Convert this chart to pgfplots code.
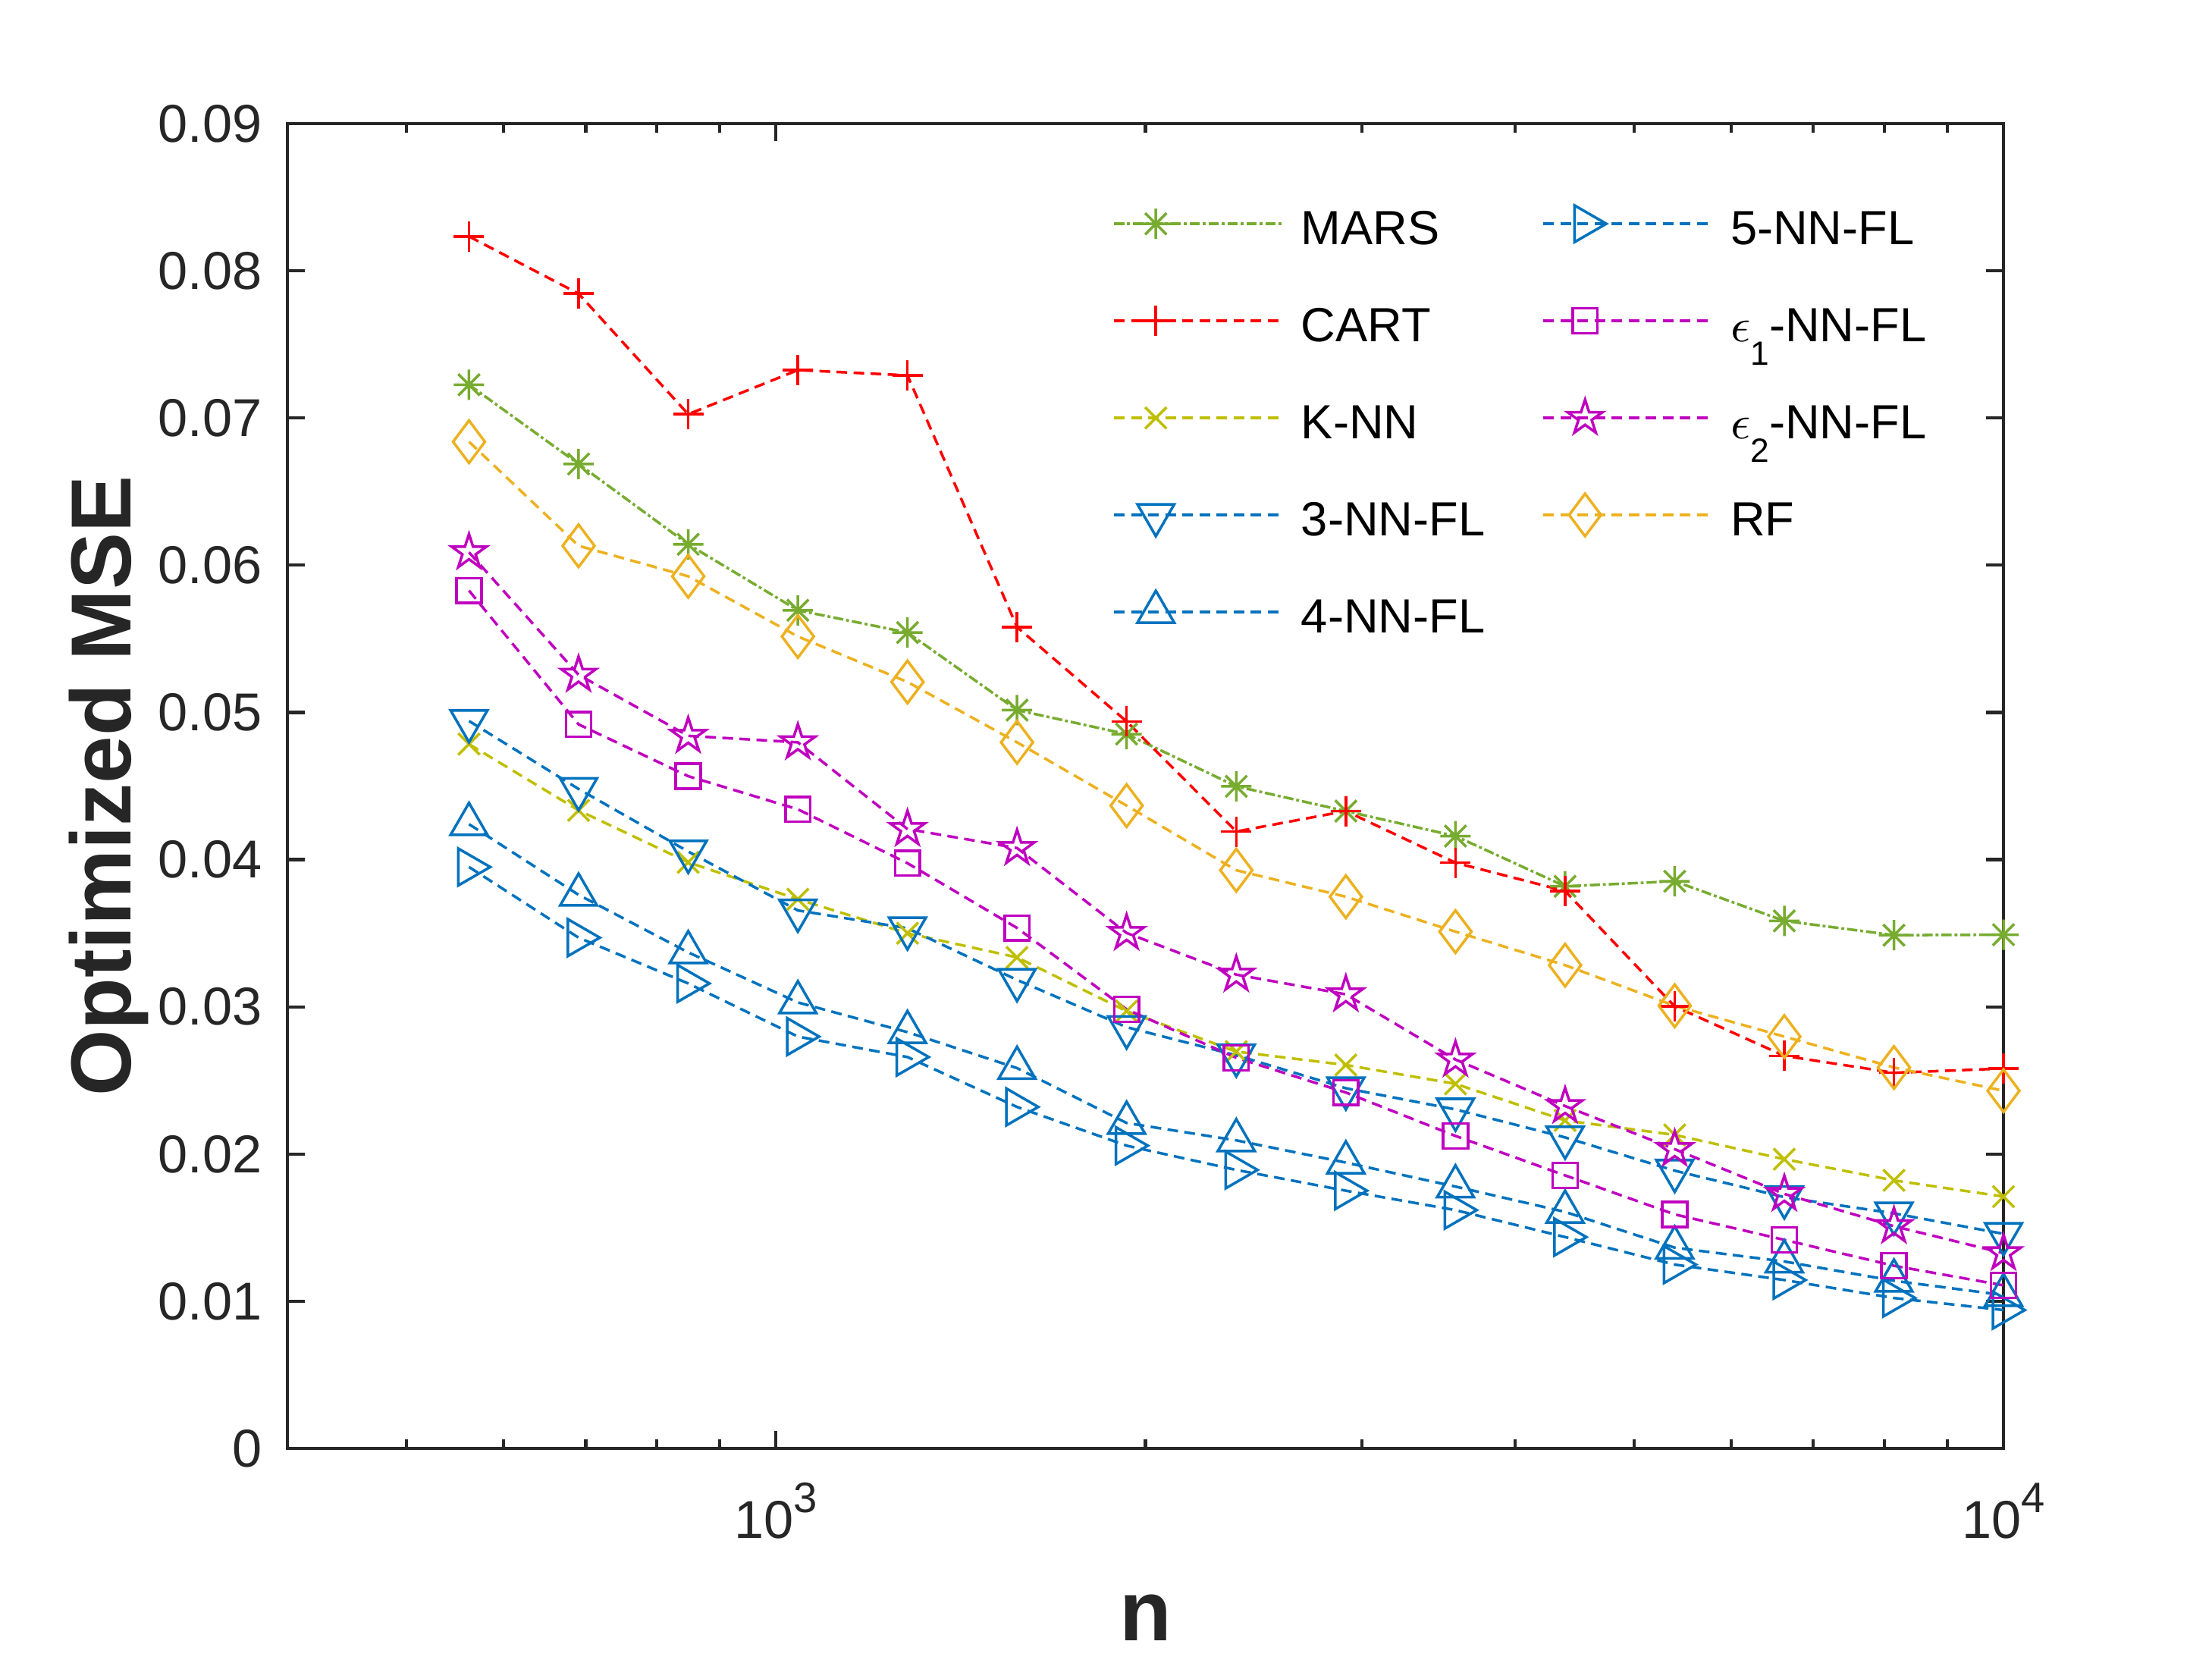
\documentclass[border=0pt]{standalone}
\usepackage{fontspec}
\setmainfont{Liberation Sans}
\usepackage{pgfplots}
\usepackage{pgfplotstable}
\pgfplotsset{compat=1.18}
\usetikzlibrary{plotmarks}

\definecolor{cMARS}{RGB}{119,172,48}
\definecolor{cCART}{RGB}{255,0,0}
\definecolor{cKNN}{RGB}{191,191,0}
\definecolor{cBlue}{RGB}{0,114,189}
\definecolor{cMag}{RGB}{191,0,191}
\definecolor{cRF}{RGB}{237,177,32}
\definecolor{axgray}{RGB}{38,38,38}

\pgfdeclareplotmark{ast8}{%
  \pgfpathmoveto{\pgfqpoint{0pt}{\pgfplotmarksize}}\pgfpathlineto{\pgfqpoint{0pt}{-\pgfplotmarksize}}%
  \pgfpathmoveto{\pgfqpoint{\pgfplotmarksize}{0pt}}\pgfpathlineto{\pgfqpoint{-\pgfplotmarksize}{0pt}}%
  \pgfpathmoveto{\pgfqpoint{0.7071\pgfplotmarksize}{0.7071\pgfplotmarksize}}\pgfpathlineto{\pgfqpoint{-0.7071\pgfplotmarksize}{-0.7071\pgfplotmarksize}}%
  \pgfpathmoveto{\pgfqpoint{-0.7071\pgfplotmarksize}{0.7071\pgfplotmarksize}}\pgfpathlineto{\pgfqpoint{0.7071\pgfplotmarksize}{-0.7071\pgfplotmarksize}}%
  \pgfusepathqstroke}

\pgfdeclareplotmark{pentagram}{%
  \pgfpathmoveto{\pgfqpoint{0pt}{\pgfplotmarksize}}%
  \pgfpathlineto{\pgfqpoint{-0.2245\pgfplotmarksize}{0.3090\pgfplotmarksize}}%
  \pgfpathlineto{\pgfqpoint{-0.9511\pgfplotmarksize}{0.3090\pgfplotmarksize}}%
  \pgfpathlineto{\pgfqpoint{-0.3633\pgfplotmarksize}{-0.1180\pgfplotmarksize}}%
  \pgfpathlineto{\pgfqpoint{-0.5878\pgfplotmarksize}{-0.8090\pgfplotmarksize}}%
  \pgfpathlineto{\pgfqpoint{0pt}{-0.382\pgfplotmarksize}}%
  \pgfpathlineto{\pgfqpoint{0.5878\pgfplotmarksize}{-0.8090\pgfplotmarksize}}%
  \pgfpathlineto{\pgfqpoint{0.3633\pgfplotmarksize}{-0.1180\pgfplotmarksize}}%
  \pgfpathlineto{\pgfqpoint{0.9511\pgfplotmarksize}{0.3090\pgfplotmarksize}}%
  \pgfpathlineto{\pgfqpoint{0.2245\pgfplotmarksize}{0.3090\pgfplotmarksize}}%
  \pgfpathclose\pgfusepathqstroke}

\pgfplotsset{
  dashed2/.style={dash pattern=on 2pt off 1.2pt},
  sMARS/.style={color=cMARS, line width=0.5pt, dash pattern=on 1.9pt off 0.55pt on 0.55pt off 0.55pt, mark=ast8, mark size=0.1cm, mark options={solid, line width=0.5pt}},
  sCART/.style={color=cCART, line width=0.5pt, dashed2, mark=+, mark size=0.1cm, mark options={solid, line width=0.5pt}},
  sKNN/.style={color=cKNN, line width=0.5pt, dashed2, mark=x, mark size=0.1cm, mark options={solid, line width=0.5pt}},
  sNN3/.style={color=cBlue, line width=0.5pt, dashed2, mark=triangle, mark size=0.14cm, mark options={solid, line width=0.5pt, rotate=180}},
  sNN4/.style={color=cBlue, line width=0.5pt, dashed2, mark=triangle, mark size=0.14cm, mark options={solid, line width=0.5pt}},
  sNN5/.style={color=cBlue, line width=0.5pt, dashed2, mark=triangle, mark size=0.14cm, mark options={solid, line width=0.5pt, rotate=-90}},
  sEA/.style={color=cMag, line width=0.5pt, dashed2, mark=square, mark size=0.082cm, mark options={solid, line width=0.5pt}},
  sEB/.style={color=cMag, line width=0.5pt, dashed2, mark=pentagram, mark size=0.12cm, mark options={solid, line width=0.5pt}},
  sRF/.style={color=cRF, line width=0.5pt, dashed2, mark=diamond, mark size=0.14cm, mark options={solid, line width=0.5pt}},
}

\pgfplotstableread{
n      mars    cart    knn     nnthree nnfour  nnfive  ea      eb      rf
562.34 0.07226 0.08234 0.04785 0.04942 0.04241 0.03950 0.05828 0.06088 0.06839
690.7  0.06688 0.07845 0.04335 0.04480 0.03761 0.03470 0.04919 0.05256 0.06132
848.3  0.06142 0.07026 0.03982 0.04055 0.03370 0.03159 0.04567 0.04841 0.05925
1042.0 0.05694 0.07326 0.03731 0.03655 0.03030 0.02798 0.04342 0.04797 0.05516
1279.8 0.05543 0.07290 0.03500 0.03534 0.02828 0.02659 0.03976 0.04208 0.05207
1571.9 0.05016 0.05580 0.03336 0.03183 0.02584 0.02320 0.03536 0.04079 0.04797
1930.7 0.04853 0.04939 0.02971 0.02862 0.02211 0.02057 0.02983 0.03502 0.04367
2371.4 0.04498 0.04191 0.02696 0.02671 0.02093 0.01892 0.02654 0.03219 0.03928
2912.6 0.04330 0.04330 0.02605 0.02447 0.01942 0.01751 0.02418 0.03085 0.03748
3577.5 0.04160 0.03979 0.02477 0.02303 0.01779 0.01619 0.02123 0.02642 0.03511
4394.1 0.03819 0.03787 0.02228 0.02113 0.01607 0.01436 0.01855 0.02326 0.03283
5397.1 0.03853 0.03003 0.02130 0.01887 0.01364 0.01249 0.01590 0.02033 0.03007
6629.1 0.03584 0.02667 0.01965 0.01707 0.01270 0.01144 0.01417 0.01729 0.02798
8142.3 0.03487 0.02552 0.01821 0.01597 0.01139 0.01022 0.01241 0.01510 0.02588
10000  0.03490 0.02581 0.01711 0.01458 0.01042 0.00940 0.01108 0.01327 0.02430
}\data

\newcommand{\sub}[1]{\raisebox{-4.4pt}{\fontsize{6.3}{7}\selectfont #1}}
\newcommand{\tenpow}[1]{10\raisebox{4.7pt}{\fontsize{8}{8}\selectfont #1}}

\begin{document}
\begin{tikzpicture}
\begin{axis}[
  scale only axis, width=11.315cm, height=8.735cm,
  at={(0,0)}, anchor=south west,
  xmode=log, xmin=400, xmax=10000, ymin=0, ymax=0.09,
  scaled y ticks=false,
  xtick={1000,10000}, xticklabels={\tenpow{3},\tenpow{4}},
  minor xtick={500,600,700,800,900,2000,3000,4000,5000,6000,7000,8000,9000},
  ytick={0,0.01,0.02,0.03,0.04,0.05,0.06,0.07,0.08,0.09},
  yticklabels={0,0.01,0.02,0.03,0.04,0.05,0.06,0.07,0.08,0.09},
  tick align=inside, major tick length=0.115cm, minor tick length=0.06cm,
  every tick/.style={axgray, line width=0.6pt},
  axis line style={axgray, line width=0.6pt},
  tick label style={font=\fontsize{10}{12}\selectfont, text=axgray, inner sep=0pt},
  yticklabel style={anchor=east, xshift=-0.16cm},
  xticklabel style={anchor=base, yshift=-0.59cm},
  xlabel={n}, ylabel={Optimized MSE},
  every axis y label/.style={at={(axis description cs:-0.09147,0.5)}, rotate=90, anchor=base,
    font=\fontsize{16}{19}\selectfont\bfseries, text=axgray, inner sep=0pt},
  every axis x label/.style={at={(axis description cs:0.5,-0.14482)}, anchor=base,
    font=\fontsize{16}{19}\selectfont\bfseries, text=axgray, inner sep=0pt},
  legend columns=2,
  legend cell align=left,
  legend style={draw=none, fill=none, inner sep=0pt, outer sep=0pt,
    at={(axis description cs:0.48095,0.94276)}, anchor=north west,
    font=\fontsize{9}{10.8}\selectfont,
    nodes={inner sep=0pt, anchor=west, text height=0.2975cm, text depth=0.0225cm},
    row sep=0.32cm,
    /tikz/every odd column/.append style={column sep=0.11cm},
    /tikz/every even column/.append style={column sep=0.375cm}},
  legend image code/.code={\draw[#1, mark indices={2}] plot coordinates {(0cm,0cm) (0.275cm,0cm) (1.115cm,0cm)};},
]
\addplot[sMARS, forget plot] table[x=n, y=mars]{\data};
\addplot[sCART, forget plot] table[x=n, y=cart]{\data};
\addplot[sKNN, forget plot] table[x=n, y=knn]{\data};
\addplot[sNN3, forget plot] table[x=n, y=nnthree]{\data};
\addplot[sNN4, forget plot] table[x=n, y=nnfour]{\data};
\addplot[sNN5, forget plot] table[x=n, y=nnfive]{\data};
\addplot[sEA, forget plot] table[x=n, y=ea]{\data};
\addplot[sEB, forget plot] table[x=n, y=eb]{\data};
\addplot[sRF, forget plot] table[x=n, y=rf]{\data};

\addlegendimage{sMARS}\addlegendentry{MARS}
\addlegendimage{sNN5}\addlegendentry{5-NN-FL}
\addlegendimage{sCART}\addlegendentry{CART}
\addlegendimage{sEA}\addlegendentry{$\epsilon$\sub{1}-NN-FL}
\addlegendimage{sKNN}\addlegendentry{K-NN}
\addlegendimage{sEB}\addlegendentry{$\epsilon$\sub{2}-NN-FL}
\addlegendimage{sNN3}\addlegendentry{3-NN-FL}
\addlegendimage{sRF}\addlegendentry{RF}
\addlegendimage{sNN4}\addlegendentry{4-NN-FL}
\end{axis}
\pgfresetboundingbox
\useasboundingbox (-1.895cm,-1.39cm) rectangle (12.69cm,9.55cm);
\end{tikzpicture}
\end{document}
